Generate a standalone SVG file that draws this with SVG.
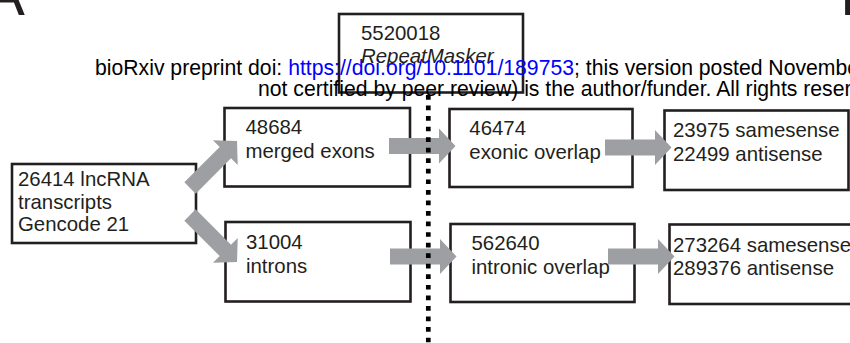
<svg xmlns="http://www.w3.org/2000/svg" xmlns:xlink="http://www.w3.org/1999/xlink" width="850" height="343" viewBox="0 0 850 343">
  <style>
    .box { fill: #ffffff; stroke: #231f20; stroke-width: 2.6; }
    .lbl { font-family: "Liberation Sans", Arial, sans-serif; font-size: 20.4px; fill: #231f20; }
    .it { font-style: italic; }
    .wm { font-family: "Liberation Sans", Arial, sans-serif; font-size: 21.2px; fill: #000000; }
    .link { fill: #0000ff; }
    .panel { font-family: "Liberation Sans", Arial, sans-serif; font-size: 62px; fill: #231f20; }
    .arrow { fill: #9e9fa2; }
    .divider { stroke: #000000; stroke-width: 4.7; stroke-dasharray: 4.7 5.85; fill: none; }
  </style>
  <defs>
    <!-- block arrow pointing along +x, origin at the tail centre -->
    <polygon id="blockArrow" points="0,-8 50,-8 50,-17.5 66.5,0 50,17.5 50,8 0,8"/>
  </defs>

  <rect x="0" y="0" width="850" height="343" fill="#ffffff"/>

  <!-- panel letters, clipped by the page edge -->
  <text class="panel" x="-16.5" y="15">A</text>
  <text class="panel" x="840" y="15">B</text>

  <g id="node-repeatmasker">
    <rect class="box" x="339" y="14" width="184" height="78.5"/>
    <text class="lbl" x="361" y="39.5">5520018</text>
    <text class="lbl it" x="361" y="62.7">RepeatMasker</text>
  </g>

  <!-- preprint banner -->
  <text class="wm" x="95" y="75">bioRxiv preprint doi: <tspan class="link">https://doi.org/10.1101/189753</tspan>; this version posted November</text>
  <text class="wm" x="258" y="96">not certified by peer review) is the author/funder. All rights reserved.</text>

  <g id="node-lncrna">
    <rect class="box" x="12" y="164" width="184" height="79"/>
    <text class="lbl" x="18" y="186">26414 lncRNA</text>
    <text class="lbl" x="18" y="208.5">transcripts</text>
    <text class="lbl" x="18" y="231">Gencode 21</text>
  </g>

  <g id="node-exons">
    <rect class="box" x="224.5" y="108" width="185.5" height="78.5"/>
    <text class="lbl" x="245.5" y="134.3">48684</text>
    <text class="lbl" x="245.5" y="157.7">merged exons</text>
  </g>

  <g id="node-introns">
    <rect class="box" x="225.5" y="222" width="185" height="79.5"/>
    <text class="lbl" x="246" y="249.3">31004</text>
    <text class="lbl" x="246" y="272.7">introns</text>
  </g>

  <g id="node-exonic-overlap">
    <rect class="box" x="449.5" y="109" width="183" height="78"/>
    <text class="lbl" x="469.3" y="135">46474</text>
    <text class="lbl" x="469.3" y="158.5">exonic overlap</text>
  </g>

  <g id="node-intronic-overlap">
    <rect class="box" x="450.5" y="224" width="184" height="78"/>
    <text class="lbl" x="471.5" y="250">562640</text>
    <text class="lbl" x="471.5" y="273.5">intronic overlap</text>
  </g>

  <g id="node-exonic-strand">
    <rect class="box" x="664.5" y="110.5" width="184" height="79.5"/>
    <text class="lbl" x="673" y="137">23975 samesense</text>
    <text class="lbl" x="673" y="161">22499 antisense</text>
  </g>

  <g id="node-intronic-strand">
    <rect class="box" x="669.5" y="224.5" width="190" height="79.5"/>
    <text class="lbl" x="673" y="251.5">273264 samesense</text>
    <text class="lbl" x="673" y="275">289376 antisense</text>
  </g>

  <g id="connectors" class="arrow">
    <use xlink:href="#blockArrow" transform="translate(190,188) rotate(-45)"/>
    <use xlink:href="#blockArrow" transform="translate(190,215) rotate(45)"/>
    <use xlink:href="#blockArrow" transform="translate(389,146)"/>
    <use xlink:href="#blockArrow" transform="translate(605,147.5)"/>
    <use xlink:href="#blockArrow" transform="translate(390,256.5)"/>
    <use xlink:href="#blockArrow" transform="translate(608,256.5)"/>
  </g>

  <!-- dotted divider below the RepeatMasker box -->
  <line class="divider" x1="428.3" y1="95" x2="428.3" y2="343"/>
</svg>
